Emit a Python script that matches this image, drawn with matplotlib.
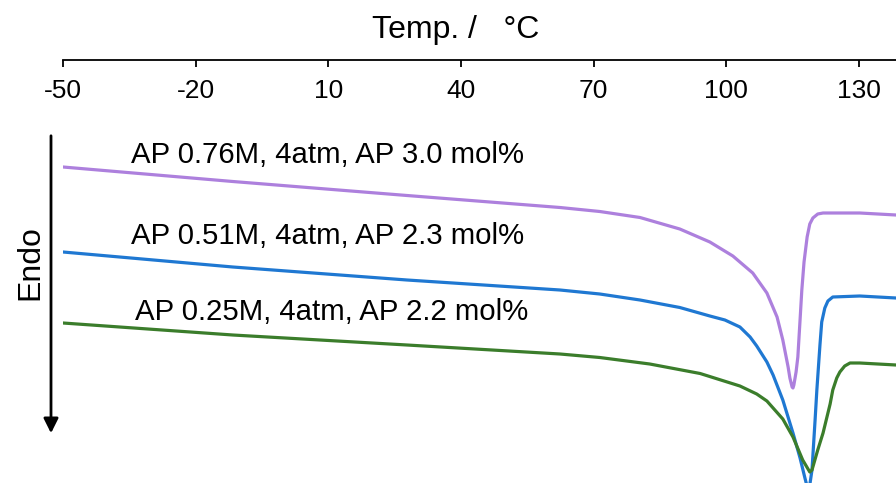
import matplotlib
matplotlib.use('Agg')
import matplotlib.pyplot as plt

plt.rcParams['font.family'] = ['Liberation Sans', 'DejaVu Sans']

# DSC traces (heat flow, arbitrary units, stacked with offsets)
temp_076 = [-50, -11.6, 27.8, 62.4, 71.4, 80.5, 89.5, 96.3, 101.5, 106.0, 109.2,
            111.5, 112.8, 114.0, 114.4, 114.9, 115.1, 115.3, 115.8, 116.2, 116.7,
            117.1, 117.6, 118.3, 118.9, 119.6, 120.7, 121.9, 130.2, 138.4]
hf_076 = [-1.67, -1.815, -1.955, -2.075, -2.115, -2.175, -2.29, -2.42, -2.56, -2.73,
          -2.93, -3.17, -3.40, -3.67, -3.78, -3.87, -3.88, -3.85, -3.72, -3.57,
          -3.20, -2.90, -2.62, -2.37, -2.24, -2.18, -2.14, -2.13, -2.13, -2.15]

temp_051 = [-50, -11.6, 27.8, 62.4, 71.4, 80.5, 89.5, 96.3, 99.7, 103.1, 105.4,
            106.9, 109.2, 110.6, 112.8, 115.1, 116.7, 117.8, 118.5, 118.9, 119.4,
            120.1, 120.5, 121.2, 121.6, 122.3, 123.0, 124.1, 130.2, 138.4]
hf_051 = [-2.52, -2.67, -2.80, -2.90, -2.94, -3.00, -3.075, -3.16, -3.20, -3.27,
          -3.37, -3.46, -3.62, -3.75, -4.00, -4.33, -4.58, -4.78, -4.90, -4.85,
          -4.70, -4.20, -3.90, -3.45, -3.22, -3.08, -3.01, -2.97, -2.96, -2.98]

temp_025 = [-50, -11.6, 27.8, 62.4, 71.4, 82.7, 94.1, 103.1, 106.9, 109.2, 112.8,
            115.1, 117.3, 118.9, 119.4, 120.7, 121.9, 123.5, 124.1, 125.0, 125.7,
            126.8, 128.0, 130.2, 138.4]
hf_025 = [-3.23, -3.35, -3.45, -3.54, -3.575, -3.64, -3.735, -3.86, -3.94, -4.01,
          -4.19, -4.37, -4.60, -4.72, -4.70, -4.50, -4.33, -4.04, -3.90, -3.78,
          -3.72, -3.66, -3.63, -3.63, -3.65]

labels = ['AP 0.76M, 4atm, AP 3.0 mol%',
          'AP 0.51M, 4atm, AP 2.3 mol%',
          'AP 0.25M, 4atm, AP 2.2 mol%']
colors = ['#ad80dd', '#1f78d2', '#3b7d2b']
xticks = [-50, -20, 10, 40, 70, 100, 130]

fig = plt.figure(figsize=(8.96, 4.83), dpi=100)
ax = fig.add_axes([63 / 896, 0.0, 1 - 63 / 896, 1 - 60 / 483])

ax.plot(temp_076, hf_076, color=colors[0], lw=2.3, solid_joinstyle='round')
ax.plot(temp_051, hf_051, color=colors[1], lw=2.3, solid_joinstyle='round')
ax.plot(temp_025, hf_025, color=colors[2], lw=2.3, solid_joinstyle='round')

ax.set_xlim(-50, 138.4)
ax.set_ylim(-4.83, -0.60)

# temperature axis drawn along the top, ticks and labels hanging below it
for s in ['left', 'right', 'top']:
    ax.spines[s].set_visible(False)
ax.spines['bottom'].set_position(('axes', 1.0))
ax.spines['bottom'].set_linewidth(1.3)
ax.set_xticks(xticks)
ax.set_xticklabels([str(t) for t in xticks])
ax.tick_params(axis='x', direction='out', length=5, width=1.3, pad=8.5,
               labelsize=19)
ax.set_yticks([])

# curve labels
ax.text(-34.6, -1.55, labels[0], fontsize=21.2, va='center', ha='left')
ax.text(-34.6, -2.36, labels[1], fontsize=21.2, va='center', ha='left')
ax.text(-33.7, -3.12, labels[2], fontsize=21.2, va='center', ha='left')

fig.text(456 / 896, 1 - 30 / 483, 'Temp. /   °C', fontsize=23,
         ha='center', va='center')

# endothermic direction arrow
fig.text(30 / 896, 1 - 263 / 483, 'Endo', fontsize=23, rotation=90,
         ha='center', va='center')
ax.annotate('', xy=(51 / 896, 1 - 436 / 483), xytext=(51 / 896, 1 - 133 / 483),
            xycoords='figure fraction', textcoords='figure fraction',
            arrowprops=dict(arrowstyle='-|>', color='black', lw=2,
                            mutation_scale=22), annotation_clip=False)

fig.savefig('out.png', dpi=100)
